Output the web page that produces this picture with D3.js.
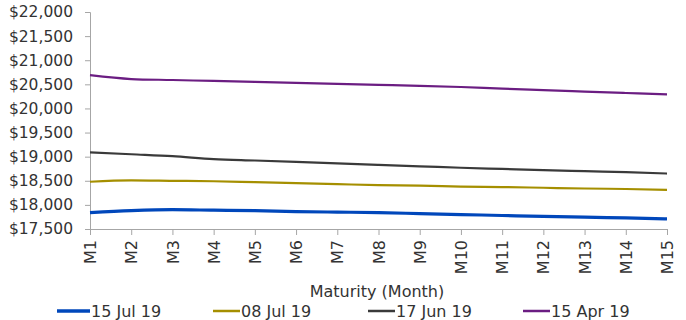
<!DOCTYPE html>
<html><head><meta charset="utf-8">
<script src="https://cdn.jsdelivr.net/npm/d3@7"></script>
<style>
html,body{margin:0;padding:0;background:#fff;}
svg{display:block;font-family:"DejaVu Sans",sans-serif;}
</style></head>
<body>
<svg id="chart" width="686" height="320"></svg>
<script>
const categories = ["M1","M2","M3","M4","M5","M6","M7","M8","M9","M10","M11","M12","M13","M14","M15"];
const seriesNames = ["15 Jul 19","08 Jul 19","17 Jun 19","15 Apr 19"];
const jul15 = [17840,17880,17900,17890,17880,17860,17850,17840,17820,17800,17780,17760,17745,17730,17710];
const jul08 = [18480,18510,18500,18490,18470,18450,18430,18410,18400,18380,18370,18355,18340,18330,18310];
const jun17 = [19090,19050,19010,18950,18920,18890,18860,18830,18800,18770,18745,18720,18700,18680,18650];
const apr15 = [20690,20610,20590,20570,20550,20530,20510,20490,20470,20445,20410,20380,20350,20320,20290];
const yTicks = [17500,18000,18500,19000,19500,20000,20500,21000,21500,22000];
const colors = ["#0047bb","#a58f00","#3a3a3a","#6b1d82"];
const widths = [3.2,2.2,2.2,2.2];

const svg = d3.select("#chart");
const x = d3.scalePoint().domain(categories).range([90,667]);
const y = d3.scaleLinear().domain([17500,22000]).range([229,12]);
const axisColor = "#a6a6a6";
const txt = "#333";
const fs = 16;

const ya = svg.append("g").attr("transform","translate(90,0)")
  .call(d3.axisLeft(y).tickValues(yTicks).tickSize(5).tickPadding(12).tickFormat(d=>"$"+d3.format(",")(d)));
ya.select(".domain").attr("stroke",axisColor);
ya.selectAll(".tick line").attr("stroke",axisColor);
ya.selectAll("text").attr("font-size",15.5).attr("fill",txt).attr("font-family","DejaVu Sans, sans-serif");

const xa = svg.append("g").attr("transform","translate(0,229)")
  .call(d3.axisBottom(x).tickSize(6).tickSizeOuter(0));
xa.select(".domain").attr("stroke",axisColor);
xa.selectAll(".tick line").attr("stroke",axisColor);
xa.selectAll("text").attr("font-size",fs).attr("fill",txt).attr("font-family","DejaVu Sans, sans-serif")
  .attr("transform","rotate(-90)").attr("text-anchor","end")
  .attr("x",-11).attr("y",0).attr("dy","0.35em");

svg.append("text").attr("x",377).attr("y",297).attr("text-anchor","middle")
  .attr("font-size",fs).attr("fill",txt).text("Maturity (Month)");

const data = [jul15,jul08,jun17,apr15];
const line = d3.line().x((d,i)=>x(categories[i])).y(d=>y(d)).curve(d3.curveMonotoneX);
data.slice().reverse().forEach((s,ri)=>{
  const i = data.length-1-ri;
  svg.append("path").attr("d",line(s)).attr("fill","none")
    .attr("stroke",colors[i]).attr("stroke-width",widths[i]);
});

const legX = [57,213,368,523];
seriesNames.forEach((n,i)=>{
  const g = svg.append("g").attr("transform",`translate(${legX[i]},311)`);
  g.append("line").attr("x1",0).attr("x2",i===0?33:27).attr("y1",0).attr("y2",0)
    .attr("stroke",colors[i]).attr("stroke-width",i===0?3.5:2.5);
  g.append("text").attr("x",i===0?34:28).attr("y",0).attr("dy","0.35em")
    .attr("font-size",fs).attr("fill",txt).text(n);
});
</script>
</body></html>
